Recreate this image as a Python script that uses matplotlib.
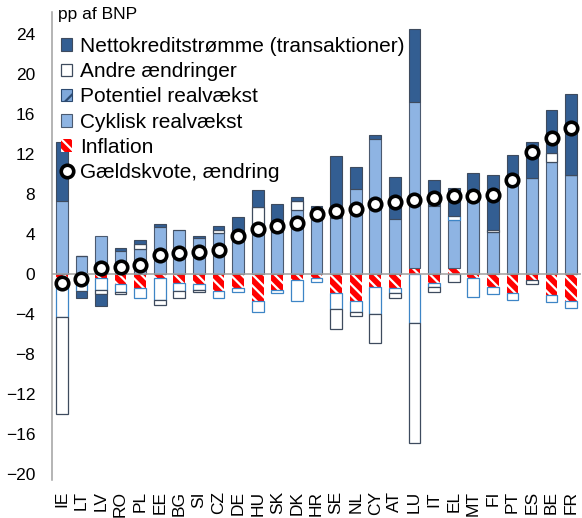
import matplotlib.pyplot as plt
import matplotlib as mpl
import numpy as np
from matplotlib.patches import Patch
from matplotlib.lines import Line2D

mpl.rcParams['font.family'] = ['Liberation Sans', 'DejaVu Sans']
mpl.rcParams['hatch.linewidth'] = 1.6

countries = ['IE', 'LT', 'LV', 'RO', 'PL', 'EE', 'BG', 'SI', 'CZ', 'DE', 'HU', 'SK', 'DK', 'HR',
             'SE', 'NL', 'CY', 'AT', 'LU', 'IT', 'EL', 'MT', 'FI', 'PT', 'ES', 'BE', 'FR']

# bidrag til ændring i gældskvoten, pp af BNP
inflation = [-0.5, 0.0, -0.4, -1.0, -1.4, -0.4, -0.9, -1.0, -1.7, -1.4, -2.7, -1.6, -0.6, -0.4,
             -1.9, -2.7, -1.3, -1.4, 0.6, -0.9, 0.6, -0.4, -1.3, -1.9, -0.6, -2.1, -2.7]
cyklisk = [7.3, 1.8, 3.8, 2.3, 2.5, 4.7, 4.4, 3.6, 4.1, 3.3, 4.8, 4.2, 6.4, 6.4,
           5.6, 8.5, 13.5, 5.5, 16.6, 6.8, 4.8, 7.3, 4.2, 9.4, 9.6, 11.2, 9.9]
potentiel = [-3.8, -1.7, -1.2, -0.8, -1.0, -2.2, -0.8, -0.6, -0.7, -0.4, -1.1, -0.3, -2.1, -0.4,
             -1.6, -1.1, -2.7, -0.5, -4.9, -0.4, 0.4, -1.9, -0.7, -0.7, 0.0, -0.7, -0.7]
andre = [-9.7, 0.0, -0.4, -0.2, 0.5, -0.5, -0.7, -0.2, 0.3, 0.0, 1.9, 0.0, 0.9, 0.0,
         -2.0, -0.4, -2.9, -0.5, -12.0, -0.5, -0.8, 0.0, 0.2, 0.0, -0.4, 0.9, 0.0]
netto = [5.9, -0.7, -1.2, 0.3, 0.4, 0.3, 0.0, 0.2, 0.4, 2.4, 1.7, 2.8, 0.4, 0.4,
         6.2, 2.2, 0.4, 4.2, 7.3, 2.6, 2.8, 2.8, 5.5, 2.5, 3.6, 4.3, 8.1]
gaeld = [-0.9, -0.5, 0.6, 0.7, 0.9, 1.9, 2.1, 2.2, 2.4, 3.8, 4.5, 4.8, 5.1, 6.0,
         6.3, 6.5, 7.0, 7.2, 7.4, 7.6, 7.8, 7.8, 7.9, 9.4, 12.2, 13.6, 14.6]

yticks = list(range(-20, 25, 4))

f = plt.figure(figsize=(5.82, 5.18), dpi=100)
ax1 = f.add_axes([52/582, 1 - 480/518, 529/582, 468/518])

x = np.arange(len(countries))
w = 0.6
pos = np.zeros(len(x))
neg = np.zeros(len(x))

# stakket i Excel-rækkefølge: inflation, cyklisk, potentiel, andre, netto
series = [
    (inflation, dict(color='#FF0000', edgecolor='white', linewidth=0, hatch='\\\\\\')),
    (cyklisk, dict(color='#8EB4E3', edgecolor='#4B5A70', linewidth=0.8)),
    (potentiel, dict(color='white', edgecolor='#3D85C6', linewidth=0.9)),
    (andre, dict(color='white', edgecolor='#3E4B5E', linewidth=0.9)),
    (netto, dict(color='#335E92', edgecolor='#3E4B5E', linewidth=0.8)),
]
bars = []
for vals, style in series:
    v = np.array(vals)
    bottom = np.where(v >= 0, pos, neg)
    b = ax1.bar(x, v, w, bottom=bottom, zorder=2, **style)
    bars.append(b)
    pos = pos + np.where(v > 0, v, 0)
    neg = neg + np.where(v < 0, v, 0)

ax1.axhline(0, color='#A0A0A0', lw=1.1, zorder=3)
ax1.plot(x, gaeld, 'o', ms=9, mfc='white', mec='black', mew=2.6, zorder=4)

ax1.set_xlim(-0.5, len(x) - 0.5)
ax1.set_ylim(-20.65, 26.15)
ax1.set_yticks(yticks)
ax1.set_xticks(x)
ax1.set_xticklabels(countries, rotation=90)
ax1.tick_params(axis='both', length=0, labelsize=12.5)
ax1.tick_params(axis='y', pad=12)
ax1.tick_params(axis='x', pad=8)
for s in ['top', 'right', 'bottom']:
    ax1.spines[s].set_visible(False)
ax1.spines['left'].set_color('#A0A0A0')
ax1.spines['left'].set_linewidth(1.1)

f.text(58/582, 1 - 15/518, 'pp af BNP', fontsize=12.5, va='center', ha='left')

handles = [
    bars[4],
    bars[3],
    Patch(facecolor='#7FA8DA', edgecolor='#2C4A70', hatch='//', linewidth=0.8),
    bars[1],
    bars[0],
    Line2D([], [], marker='o', ls='none', ms=9, mfc='white', mec='black', mew=2.6),
]
labels = ['Nettokreditstrømme (transaktioner)', 'Andre ændringer', 'Potentiel realvækst',
          'Cyklisk realvækst', 'Inflation', 'Gældskvote, ændring']
leg = ax1.legend(handles, labels, loc='upper left', bbox_to_anchor=(61/582, 1 - 37/518),
                 bbox_transform=f.transFigure, frameon=False, fontsize=15, borderpad=0,
                 borderaxespad=0, handlelength=0.55, handleheight=0.55, handletextpad=0.35,
                 labelspacing=0.3)
leg.set_zorder(5)

f.savefig('out.png', dpi=100)
